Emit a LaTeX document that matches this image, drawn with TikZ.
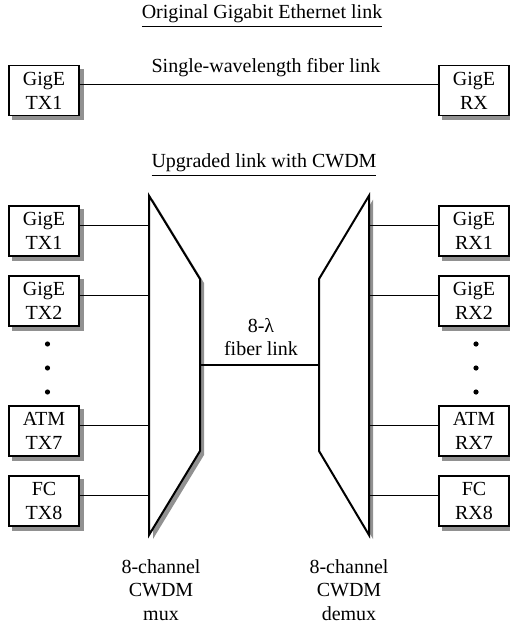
\documentclass[tikz,border=0pt]{standalone}
\usepackage{fontspec}
\setmainfont{Liberation Serif}
\usetikzlibrary{backgrounds}
\definecolor{shd}{RGB}{145,145,145}
\begin{document}
\begin{tikzpicture}[x=0.5pt,y=-0.5pt,
  shadowfill/.style={fill=shd},
  dev/.style={draw, line width=0.8pt, fill=white, minimum width=35pt, minimum height=25pt,
    inner sep=0pt, align=center, font=\fontsize{10}{12}\selectfont},
  wire/.style={line width=0.6pt},
  muxshape/.style={draw, line width=1pt, fill=white, line join=miter},
  muxshadow/.style={shadowfill, xshift=2pt, yshift=-2pt},
  lbl/.style={align=center, font=\fontsize{10}{11.75}\selectfont, inner sep=0pt},
  dotn/.style={circle, fill=black, inner sep=0pt, minimum size=2.6pt}
]
\useasboundingbox (0,0) rectangle (509,624);

% ---- original link
\node[lbl, anchor=base] (t1) at (262,19) {\underline{Original Gigabit Ethernet link}};
\node[dev] (otx) at (44,90.5) {GigE\\TX1};
\node[dev] (orx) at (474,90.5) {GigE\\RX};
\draw[wire] ([yshift=3pt]otx.east) -- ([yshift=3pt]orx.west);
\node[lbl, anchor=base] (sw) at (266,73) {Single-wavelength fiber link};

% ---- upgraded link
\node[lbl, anchor=base] (t2) at (264,168) {\underline{Upgraded link with CWDM}};

% mux / demux shapes with shadows
\fill[muxshadow] (149,195.7) -- (200,279) -- (200,451) -- (149,535) -- cycle;
\fill[muxshadow] (369,195.7) -- (319,279) -- (319,451) -- (369,535) -- cycle;
\path[muxshape] (149,195.7) -- (200,279) -- (200,451) -- (149,535) -- cycle;
\path[muxshape] (369,195.7) -- (319,279) -- (319,451) -- (369,535) -- cycle;
\coordinate (muxL) at (149,365);
\coordinate (muxR) at (200,365);
\coordinate (demL) at (319,365);
\coordinate (demR) at (369,365);

% transmitters
\node[dev] (tx1) at (44,231) {GigE\\TX1};
\node[dev] (tx2) at (44,301) {GigE\\TX2};
\node[dev] (tx7) at (44,431) {ATM\\TX7};
\node[dev] (tx8) at (44,501) {FC\\TX8};
% receivers
\node[dev] (rx1) at (474,231) {GigE\\RX1};
\node[dev] (rx2) at (474,301) {GigE\\RX2};
\node[dev] (rx7) at (474,431) {ATM\\RX7};
\node[dev] (rx8) at (474,501) {FC\\RX8};

% box shadows
\begin{scope}[on background layer]
\foreach \n in {otx,orx,tx1,tx2,tx7,tx8,rx1,rx2,rx7,rx8}
  \fill[shadowfill] ([xshift=2pt,yshift=-2pt]\n.south west) rectangle ([xshift=2pt,yshift=-2pt]\n.north east);
\end{scope}

\foreach \n in {tx1,tx2,tx7,tx8}
  \draw[wire] ([yshift=2.75pt]\n.east) -- ([yshift=2.75pt]\n.east -| muxL);
\foreach \n in {rx1,rx2,rx7,rx8}
  \draw[wire] ([yshift=2.75pt]\n.west) -- ([yshift=2.75pt]\n.west -| demR);

\draw[wire] (muxR) -- (demL);

% dots
\node[dotn] (ld1) at (47.5,344) {};
\node[dotn] (ld2) at (47.5,368) {};
\node[dotn] (ld3) at (47.5,392) {};
\node[dotn] (rd1) at (476,344) {};
\node[dotn] (rd2) at (476,368) {};
\node[dotn] (rd3) at (476,392) {};

% labels
\node[lbl] (fl) at (261,337) {8-λ\\fiber link};
\node[lbl] (ml) at (161,590) {8-channel\\CWDM\\mux};
\node[lbl] (dl) at (349,590) {8-channel\\CWDM\\demux};
\end{tikzpicture}
\end{document}
